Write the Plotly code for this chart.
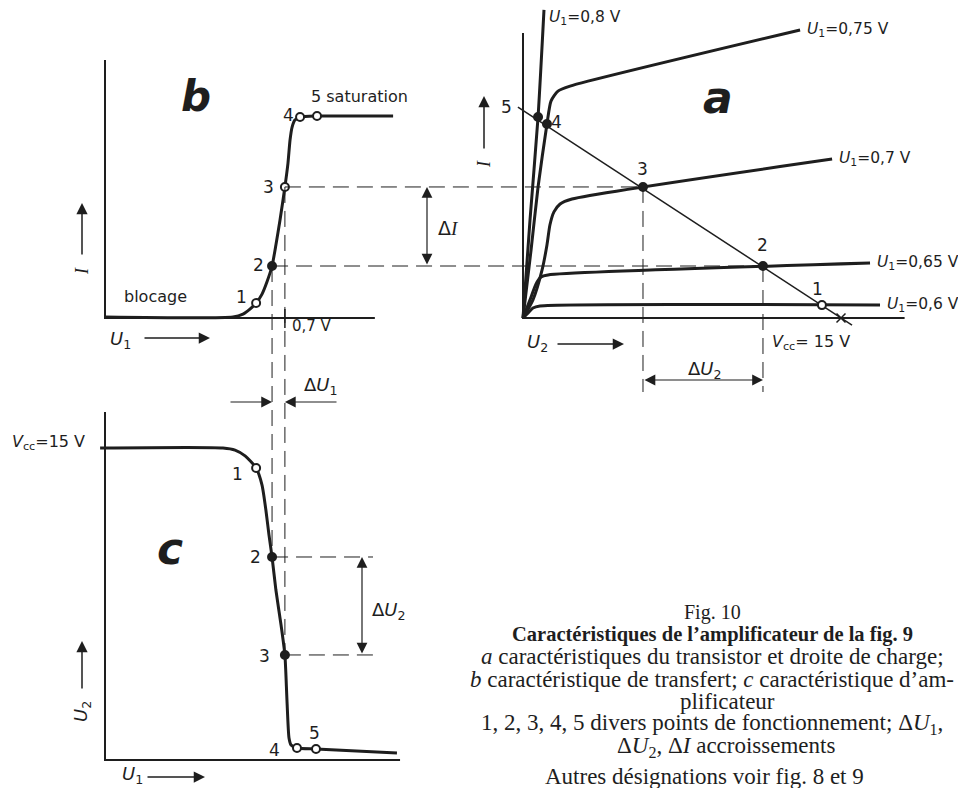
import plotly.graph_objects as go

# ---------------- values ----------------
pt_names = ["1", "2", "3", "4", "5"]

# b: transfer characteristic I = f(U1)   (U1 in V, I in mA)
b_u1 = [0.0, 0.498, 0.537, 0.564, 0.588, 0.611, 0.630, 0.650, 0.665, 0.681,
        0.700, 0.712, 0.720, 0.728, 0.739, 0.759, 0.825, 1.121]
b_i = [0.05, 0.05, 0.19, 0.43, 0.72, 1.15, 1.73, 2.50, 3.51, 4.71,
       6.30, 7.45, 8.56, 9.18, 9.52, 9.66, 9.71, 9.71]
b_pt_u1 = [0.588, 0.650, 0.700, 0.759, 0.825]
b_pt_i = [0.72, 2.50, 6.30, 9.66, 9.71]
b_tick_u1 = 0.7
b_frame_u1 = [0, 0, 1.05]
b_frame_i = [12.4, 0, 0]

# a: output characteristics I = f(U2) for several U1, load line
a_u1_labels = ["0,6", "0,65", "0,7", "0,75", "0,8"]
a_u2_060 = [0, 0.24, 0.47, 0.80, 16.84]
a_i_060 = [0, 0.24, 0.48, 0.58, 0.62]
a_u2_065 = [0, 0.33, 0.61, 0.85, 1.18, 16.37]
a_i_065 = [0, 0.87, 1.63, 1.97, 2.07, 2.64]
a_u2_070 = [0, 0.47, 0.90, 1.13, 1.27, 1.46, 1.75, 2.31, 14.58]
a_i_070 = [0, 0.87, 2.31, 3.51, 4.47, 5.10, 5.48, 5.72, 7.64]
a_u2_075 = [0, 0.38, 0.71, 1.13, 1.32, 1.65, 2.22, 13.07]
a_i_075 = [0, 3.27, 6.30, 9.33, 10.43, 10.91, 11.15, 13.85]
a_u2_080 = [0, 0.33, 0.71, 0.99]
a_i_080 = [0, 4.71, 9.66, 14.81]
load_u2 = [-0.24, 15.52]
load_i = [10.14, -0.34]
vcc = 15
a_pt_u2 = [14.10, 11.32, 5.66, 1.13, 0.71]
a_pt_i = [0.62, 2.50, 6.30, 9.33, 9.66]
a_frame_u2 = [0, 0, 18.0]
a_frame_i = [13.7, 0, 0]

# c: amplifier characteristic U2 = f(U1)
c_u1 = [-0.019, 0.459, 0.506, 0.545, 0.588, 0.611, 0.626, 0.638, 0.650, 0.665,
        0.685, 0.700, 0.708, 0.716, 0.724, 0.747, 0.821, 1.136]
c_u2 = [15.0, 15.0, 14.90, 14.62, 14.04, 13.22, 12.02, 10.82, 9.76, 8.17,
        6.49, 5.05, 2.88, 1.06, 0.72, 0.58, 0.53, 0.34]
c_pt_u1 = [0.588, 0.650, 0.700, 0.747, 0.821]
c_pt_u2 = [14.04, 9.76, 5.05, 0.58, 0.53]
c_frame_u1 = [0, 0, 1.148]
c_frame_u2 = [16.73, 0, 0]

# ---------------- page geometry / scales ----------------
W, H, OFF = 950, 780, 8
U1_X0, U1_K = 105, 257.0   # px of U1=0, px per V
U2_X0, U2_K = 523, 21.2
I_Y0, I_K = 318, 20.8
V_Y0, V_K = 760, 20.8

INK = "#1e1e1e"
SANS = "DejaVu Sans, sans-serif"
SERIF = "Liberation Serif, DejaVu Serif, serif"


def pxx(x):
    return (x - OFF) / W


def pxy(y):
    return 1 - (y - OFF) / H


def u1_to_u2(u):
    return (U1_X0 + u * U1_K - U2_X0) / U2_K


def i_to_v(i):
    return (V_Y0 - (I_Y0 - i * I_K)) / V_K


def px_to_u1(x):
    return (x - U1_X0) / U1_K


def px_to_u2(x):
    return (x - U2_X0) / U2_K


def py_to_i(y):
    return (I_Y0 - y) / I_K


def py_to_v(y):
    return (V_Y0 - y) / V_K


fig = go.Figure()


def line(x, y, xa="x", ya="y", width=3, dash=None, shape="linear"):
    fig.add_trace(go.Scatter(x=x, y=y, xaxis=xa, yaxis=ya, mode="lines",
                             line=dict(color=INK, width=width, dash=dash, shape=shape, smoothing=0.6),
                             hoverinfo="skip", showlegend=False))


def points(x, y, opens, xa="x", ya="y"):
    fig.add_trace(go.Scatter(
        x=x, y=y, xaxis=xa, yaxis=ya, mode="markers", hoverinfo="skip", showlegend=False,
        marker=dict(size=8, color=["white" if o else INK for o in opens],
                    line=dict(color=INK, width=2))))


def text(x, y, t, size=16, xanchor="center", family=SANS, angle=0, weight="normal", style="normal"):
    fig.add_annotation(x=pxx(x), y=pxy(y), xref="paper", yref="paper", text=t,
                       showarrow=False, xanchor=xanchor, yanchor="middle", textangle=angle,
                       font=dict(family=family, size=size, color=INK, weight=weight, style=style))


def arrow(x0, y0, x1, y1):
    fig.add_annotation(x=pxx(x1), y=pxy(y1), xref="paper", yref="paper",
                       ax=x0 - x1, ay=y0 - y1, axref="pixel", ayref="pixel", text="",
                       showarrow=True, arrowhead=2, arrowsize=1.5, arrowwidth=1.5,
                       arrowcolor=INK, standoff=0)


def dim(x0, y0, x1, y1, xa, ya, both=True):
    fig.add_annotation(x=x1, y=y1, xref=xa, yref=ya, ax=x0, ay=y0, axref=xa, ayref=ya,
                       text="", showarrow=True, arrowhead=2, startarrowhead=2,
                       arrowside="end+start" if both else "end",
                       arrowsize=1.8, startarrowsize=1.8, arrowwidth=1.2,
                       arrowcolor=INK, standoff=0, startstandoff=0)


def pt_label(x, y, t, dx, dy, xa="x", ya="y", size=17):
    fig.add_annotation(x=x, y=y, xref=xa, yref=ya, text=t, showarrow=False,
                       xshift=dx, yshift=-dy, font=dict(family=SANS, size=size, color=INK))


U1_TXT = "<i>U</i><sub>1</sub>"
U2_TXT = "<i>U</i><sub>2</sub>"
I_TXT = "<span style='font-family:Liberation Serif'><i>I</i></span>"

# ---------------- dashed construction lines ----------------
DASH = "16px,8px"
# b -> a (horizontal, same current)
for k in (1, 2):
    line([u1_to_u2(b_pt_u1[k]), a_pt_u2[k]], [b_pt_i[k], b_pt_i[k]], xa="x2", width=1, dash=DASH)
# b -> c (vertical, same U1)
for k in (1, 2):
    line([b_pt_u1[k], b_pt_u1[k]], [i_to_v(b_pt_i[k]), c_pt_u2[k]], ya="y2", width=1, dash=DASH)
# a: down to the dimension line
for k in (1, 2):
    line([a_pt_u2[k], a_pt_u2[k]], [a_pt_i[k], py_to_i(392)], xa="x2", width=1, dash=DASH)
# c: across to the dimension line
for k, xe in ((1, 373), (2, 375)):
    line([c_pt_u1[k], px_to_u1(xe)], [c_pt_u2[k], c_pt_u2[k]], ya="y2", width=1, dash=DASH)

# ---------------- panel b ----------------
line(b_frame_u1, b_frame_i, width=2)
line([b_tick_u1, b_tick_u1], [py_to_i(309), py_to_i(328)], width=1.5)
line(b_u1, b_i, width=3, shape="spline")
points(b_pt_u1, b_pt_i, [True, False, True, True, True])
for k, (dx, dy) in enumerate([(-15, -6), (-14, -1), (-16, 0), (-12, -2)]):
    pt_label(b_pt_u1[k], b_pt_i[k], pt_names[k], dx, dy)
fig.add_annotation(x=b_pt_u1[4], y=b_pt_i[4], xref="x", yref="y", text="5 saturation",
                   showarrow=False, xanchor="left", xshift=-8, yshift=20,
                   font=dict(family=SANS, size=16, color=INK))
text(122, 296, "blocage", xanchor="left")
text(290, 326, "0,7 V", xanchor="left", size=15)
text(196, 96, "b", size=42, style="italic", weight=600)
text(82, 271, I_TXT, size=18, angle=-90)
arrow(82, 256, 82, 203)
text(108, 340, U1_TXT, size=18, xanchor="left")
arrow(143, 338, 210, 338)

# ---------------- panel a ----------------
line(a_frame_u2, a_frame_i, xa="x2", width=2)
line(load_u2, load_i, xa="x2", width=1.5)
fig.add_trace(go.Scatter(x=[vcc], y=[0], xaxis="x2", yaxis="y", mode="markers", hoverinfo="skip",
                         showlegend=False, marker=dict(symbol="x-thin", size=9,
                                                       line=dict(color=INK, width=1.5))))
curves = [(a_u2_060, a_i_060), (a_u2_065, a_i_065), (a_u2_070, a_i_070),
          (a_u2_075, a_i_075), (a_u2_080, a_i_080)]
lab_shift = [(5, 0), (5, 0), (5, 0), (5, 0), (3, 8)]
for (ux, iy), lbl, (dx, dy) in zip(curves, a_u1_labels, lab_shift):
    line(ux, iy, xa="x2", width=3, shape="spline")
    fig.add_annotation(x=ux[-1], y=iy[-1], xref="x2", yref="y", showarrow=False,
                       xanchor="left", xshift=dx, yshift=-dy,
                       text=f"{U1_TXT}={lbl} V",
                       font=dict(family=SANS, size=15.5, color=INK))
points(a_pt_u2, a_pt_i, [True, False, False, False, False], xa="x2")
for k, (dx, dy) in enumerate([(-4, -16), (0, -21), (0, -18), (10, -2), (-32, -10)]):
    pt_label(a_pt_u2[k], a_pt_i[k], pt_names[k], dx, dy, xa="x2")
text(718, 97, "a", size=44, style="italic", weight=600)
text(484, 164, I_TXT, size=18, angle=-90)
arrow(484, 150, 484, 96)
text(525, 343, U2_TXT, size=18, xanchor="left")
arrow(556, 344, 624, 344)
text(770, 342, "<i>V</i><sub>cc</sub>= 15 V", size=16, xanchor="left")
# ΔU2 dimension in a
dim(a_pt_u2[2], py_to_i(380), a_pt_u2[1], py_to_i(380), "x2", "y")
text(705, 370, "Δ" + U2_TXT, size=18)
# ΔI dimension between b and a
dim(px_to_u1(427), b_pt_i[1], px_to_u1(427), b_pt_i[2], "x", "y")
text(436, 228, "Δ" + I_TXT, size=19, xanchor="left")

# ---------------- panel c ----------------
line(c_frame_u1, c_frame_u2, ya="y2", width=2)
line(c_u1, c_u2, ya="y2", width=3, shape="spline")
points(c_pt_u1, c_pt_u2, [True, False, False, True, True], ya="y2")
for k, (dx, dy) in enumerate([(-19, 6), (-17, 0), (-20, 1), (-22, 2), (-2, -16)]):
    pt_label(c_pt_u1[k], c_pt_u2[k], pt_names[k], dx, dy, ya="y2")
text(87, 442, "<i>V</i><sub>cc</sub>=15 V", size=16, xanchor="right")
text(170, 548, "c", size=44, style="italic", weight=600)
text(82, 712, U2_TXT, size=18, angle=-90)
arrow(82, 690, 82, 641)
text(120, 775, U1_TXT, size=18, xanchor="left")
arrow(146, 777, 205, 777)
# ΔU1 (arrows pointing inward)
dim(px_to_u1(229), py_to_v(402), b_pt_u1[1], py_to_v(402), "x", "y2", both=False)
dim(px_to_u1(338), py_to_v(402), b_pt_u1[2], py_to_v(402), "x", "y2", both=False)
text(302, 386, "Δ" + U1_TXT, size=18, xanchor="left")
# ΔU2 in c
dim(px_to_u1(362), c_pt_u2[2], px_to_u1(362), c_pt_u2[1], "x", "y2")
text(370, 611, "Δ" + U2_TXT, size=18, xanchor="left")

# ---------------- caption ----------------
caption = [
    (712, 612, "Fig. 10", 20),
    (712, 634, "<b>Caractéristiques de l’amplificateur de la fig. 9</b>", 20.5),
    (712, 656, "<i>a</i> caractéristiques du transistor et droite de charge;", 23),
    (712, 679, "<i>b</i> caractéristique de transfert; <i>c</i> caractéristique d’am-", 23),
    (727, 701, "plificateur", 23),
    (712, 724, "1, 2, 3, 4, 5 divers points de fonctionnement; Δ<i>U</i><sub>1</sub>,", 23),
    (726, 747, "Δ<i>U</i><sub>2</sub>, Δ<i>I</i> accroissements", 23),
    (704, 776, "Autres désignations voir fig. 8 et 9", 23),
]
for x, y, t, s in caption:
    text(x, y, t, size=s, family=SERIF)

# ---------------- layout ----------------
fig.update_layout(
    width=W, height=H,
    margin=dict(l=0, r=0, t=0, b=0),
    paper_bgcolor="white", plot_bgcolor="white",
    showlegend=False,
    xaxis=dict(domain=[0, 1], range=[px_to_u1(OFF), px_to_u1(OFF + W)], visible=False, fixedrange=True),
    xaxis2=dict(range=[px_to_u2(OFF), px_to_u2(OFF + W)], overlaying="x", visible=False, fixedrange=True),
    yaxis=dict(domain=[0, 1], range=[py_to_i(OFF + H), py_to_i(OFF)], visible=False, fixedrange=True),
    yaxis2=dict(range=[py_to_v(OFF + H), py_to_v(OFF)], overlaying="y", visible=False, fixedrange=True),
)

fig.write_html("out.html")
